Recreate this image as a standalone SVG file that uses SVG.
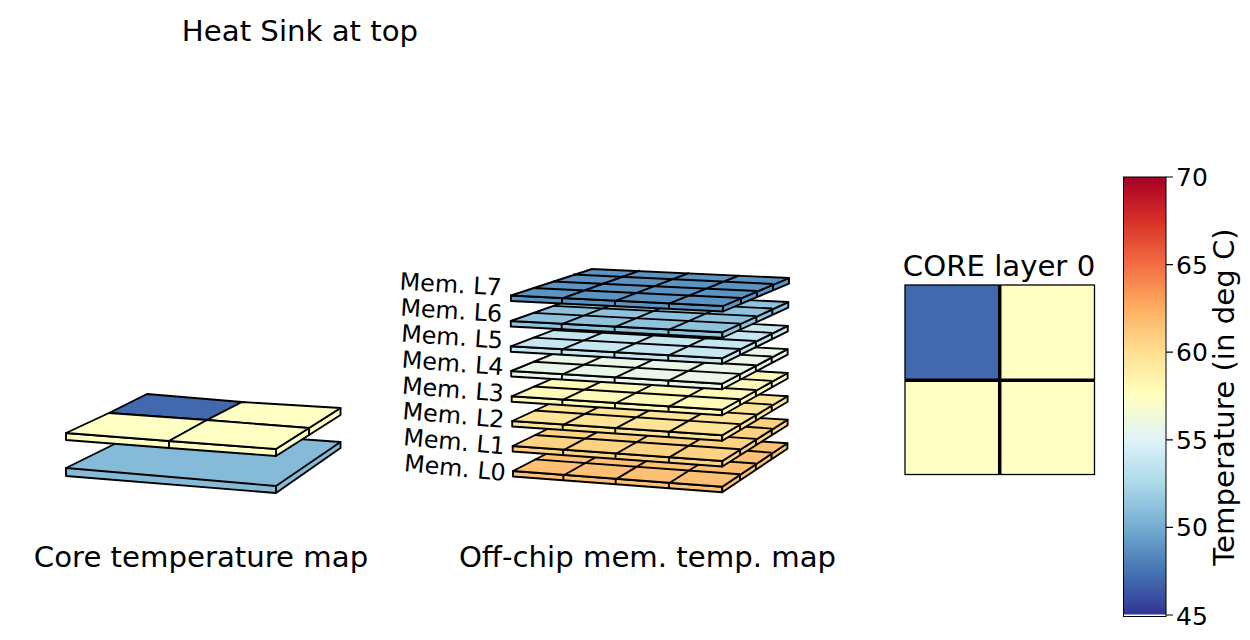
<svg xmlns="http://www.w3.org/2000/svg" xmlns:xlink="http://www.w3.org/1999/xlink" width="1250" height="640" viewBox="0 0 1250 640">
<style>
text{font-family:"DejaVu Sans",sans-serif;fill:#000}
.t{font-size:29.2px}
.c{font-size:25px}
.m{font-size:23.8px}
.e{stroke:#000;stroke-width:1.9;stroke-linejoin:round;stroke-linecap:round}
.g{fill:none;stroke:#000;stroke-width:1.9;vector-effect:non-scaling-stroke;stroke-linejoin:round}
.b{fill:currentColor;stroke:#000;stroke-width:1.9;vector-effect:non-scaling-stroke;stroke-linejoin:round}
.tk{stroke:#000;stroke-width:1.2}
</style>
<defs>
<linearGradient id="cmap" x1="0" y1="1" x2="0" y2="0">
<stop offset="0" stop-color="#313695"/><stop offset=".1" stop-color="#4575b4"/><stop offset=".2" stop-color="#74add1"/><stop offset=".3" stop-color="#abd9e9"/><stop offset=".4" stop-color="#e0f3f8"/><stop offset=".5" stop-color="#ffffbf"/><stop offset=".6" stop-color="#fee090"/><stop offset=".7" stop-color="#fdae61"/><stop offset=".8" stop-color="#f46d43"/><stop offset=".9" stop-color="#d73027"/><stop offset="1" stop-color="#a50026"/>
</linearGradient>
<g id="top">
<path class="b" d="M0 0L212 10.5L278-17.5L81-26.5Z"/>
<path class="g" d="M22-7.5L230 2.5M42-14L246-4.5M62-21L262-11.5M51 3L129-25M104 5.6L178-22.5M158 8.2L228-20"/>
</g>
<g id="front">
<path class="b" d="M0 0H212V5.5H0Z"/>
<path class="g" d="M51 0V5.5M104 0V5.5M158 0V5.5"/>
</g>
<g id="right">
<path class="b" d="M0 0H66V5.5H0Z"/>
<path class="g" d="M18 0V5.5M34 0V5.5M50 0V5.5"/>
</g>
</defs>
<rect width="1250" height="640" fill="#fff"/>
<text class="t" x="300" y="41" text-anchor="middle">Heat Sink at top</text>

<g id="core-temperature-map">
<g id="core-lower" class="e">
<path fill="#85bad8" d="M66 468L147 428L340.500 442V448L276 493L66 476Z"/>
<path fill="none" d="M66 468L276 486L340.500 442M276 486V493"/>
</g>
<g id="core-upper" class="e">
<path fill="#feffc2" d="M66 433V440L169 448L276 456L340.500 415V408L276 449L169 441Z"/>
<path fill="none" d="M169 441V448M276 449V456M309 428V435"/>
<path fill="#4269ad" d="M147 394L242 402L207 420L109 413Z"/>
<path fill="#feffc2" d="M242 402L340.500 408L309 428L207 420Z"/>
<path fill="#feffc2" d="M109 413L207 420L169 441L66 433Z"/>
<path fill="#feffc2" d="M207 420L309 428L276 449L169 441Z"/>
</g>
<text class="t" x="201" y="567" text-anchor="middle">Core temperature map</text>
</g>

<g id="memory-stack">
<g id="mem-l0" color="#fdc074"><use xlink:href="#front" transform="matrix(.987 .074 0 1 513 471)"/><use xlink:href="#right" transform="matrix(.987 -.6574 0 1 722.24 486.69)"/><use xlink:href="#top" transform="matrix(.987 -.0024 0 1.544 513 471)"/><text class="m" transform="translate(403.500 471) rotate(5.6)">Mem. L0</text></g>
<g id="mem-l1" color="#fed283"><use xlink:href="#front" transform="matrix(.9889 .0705 0 1 512.7 446)"/><use xlink:href="#right" transform="matrix(.9889 -.624 0 1 722.35 460.95)"/><use xlink:href="#top" transform="matrix(.9889 -.0021 0 1.466 512.7 446)"/><text class="m" transform="translate(402.700 445) rotate(5.3)">Mem. L1</text></g>
<g id="mem-l2" color="#fee496"><use xlink:href="#front" transform="matrix(.9907 .0671 0 1 512.2 421)"/><use xlink:href="#right" transform="matrix(.9907 -.5909 0 1 722.23 435.23)"/><use xlink:href="#top" transform="matrix(.9907 -.0017 0 1.389 512.2 421)"/><text class="m" transform="translate(402.100 419) rotate(5)">Mem. L2</text></g>
<g id="mem-l3" color="#fefab9"><use xlink:href="#front" transform="matrix(.9926 .0635 0 1 511.7 396.3)"/><use xlink:href="#right" transform="matrix(.9926 -.5575 0 1 722.13 409.76)"/><use xlink:href="#top" transform="matrix(.9926 -.0014 0 1.311 511.7 396.3)"/><text class="m" transform="translate(401.500 393.500) rotate(4.700)">Mem. L3</text></g>
<g id="mem-l4" color="#e9f6e8"><use xlink:href="#front" transform="matrix(.9944 .06 0 1 511.2 371)"/><use xlink:href="#right" transform="matrix(.9944 -.524 0 1 722.01 383.72)"/><use xlink:href="#top" transform="matrix(.9944 -.001 0 1.233 511.2 371)"/><text class="m" transform="translate(401.300 367.500) rotate(4.300)">Mem. L4</text></g>
<g id="mem-l5" color="#c6e6f2"><use xlink:href="#front" transform="matrix(.9963 .0565 0 1 510.8 346.3)"/><use xlink:href="#right" transform="matrix(.9963 -.4907 0 1 722.02 358.28)"/><use xlink:href="#top" transform="matrix(.9963 -.0007 0 1.155 510.8 346.3)"/><text class="m" transform="translate(400.700 341.500) rotate(4)">Mem. L5</text></g>
<g id="mem-l6" color="#8fc3dd"><use xlink:href="#front" transform="matrix(.9981 .0531 0 1 510.8 321)"/><use xlink:href="#right" transform="matrix(.9981 -.4576 0 1 722.4 332.26)"/><use xlink:href="#top" transform="matrix(.9981 -.0003 0 1.078 510.8 321)"/><text class="m" transform="translate(400 315.500) rotate(3.700)">Mem. L6</text></g>
<g id="mem-l7" color="#5b93c3"><use xlink:href="#front" transform="matrix(1 .0495 0 1 511 295.5)"/><use xlink:href="#right" transform="matrix(1 -.4242 0 1 723 306)"/><use xlink:href="#top" transform="matrix(1 0 0 1 511 295.5)"/><text class="m" transform="translate(399.300 289.500) rotate(3.400)">Mem. L7</text></g>
<text class="t" x="647.500" y="567" text-anchor="middle">Off-chip mem. temp. map</text>
</g>

<g id="core-layer-0">
<text class="t" x="999" y="276" text-anchor="middle">CORE layer 0</text>
<rect x="905" y="285" width="95" height="95" fill="#4269ad"/>
<rect x="1000" y="285" width="95" height="95" fill="#feffc2"/>
<rect x="905" y="380" width="95" height="95" fill="#feffc2"/>
<rect x="1000" y="380" width="95" height="95" fill="#feffc2"/>
<path d="M999.7 285V474.500M905 380.300H1094.500" stroke="#000" stroke-width="3.5" fill="none"/>
<rect x="905" y="285" width="189.5" height="189.5" fill="none" stroke="#000" stroke-width="1.3"/>
</g>

<g id="colorbar">
<rect x="1123.5" y="177" width="42.5" height="437.5" fill="url(#cmap)"/>
<rect x="1123.5" y="177" width="42.5" height="439.5" fill="none" stroke="#000" stroke-width="1"/>
<path class="tk" d="M1166 177H1173M1166 264.600H1173M1166 352.200H1173M1166 439.800H1173M1166 527.400H1173M1166 615H1173"/>
<text class="c" x="1176" y="186">70</text>
<text class="c" x="1176" y="274">65</text>
<text class="c" x="1176" y="361">60</text>
<text class="c" x="1176" y="449">55</text>
<text class="c" x="1176" y="536">50</text>
<text class="c" x="1176" y="625">45</text>
<text class="t" transform="translate(1234 397) rotate(-90)" text-anchor="middle">Temperature (in deg C)</text>
</g>
</svg>
